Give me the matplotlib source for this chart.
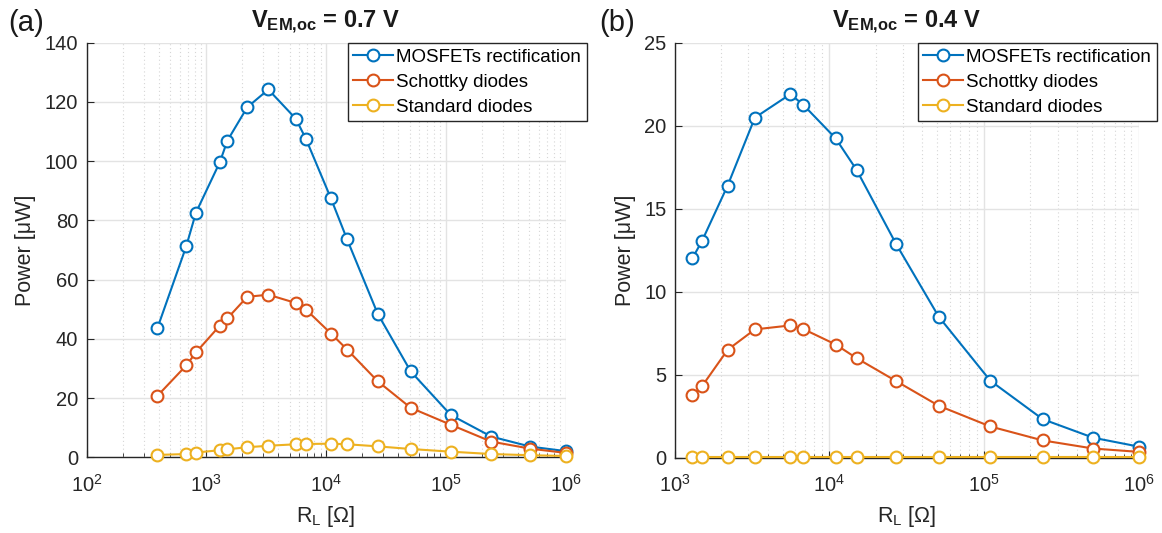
import matplotlib
matplotlib.use("Agg")
import matplotlib.pyplot as plt
import numpy as np
from matplotlib.ticker import LogLocator, NullFormatter

plt.rcParams['font.family'] = ['Liberation Sans', 'DejaVu Sans']
plt.rcParams['mathtext.fontset'] = 'custom'
plt.rcParams['mathtext.rm'] = 'Liberation Sans'
plt.rcParams['mathtext.it'] = 'Liberation Sans:italic'
plt.rcParams['mathtext.bf'] = 'Liberation Sans:bold'

# ---- data ----
R_a = [390, 680, 820, 1300, 1500, 2200, 3300, 5600, 6800, 11000, 15000,
       27000, 51000, 110000, 240000, 510000, 1000000]
mos_a = [43.5, 71.2, 82.6, 99.7, 106.9, 118.2, 124.2, 114.3, 107.5, 87.4, 73.6,
         48.5, 29.0, 14.3, 7.0, 3.6, 2.1]
sch_a = [20.7, 31.0, 35.4, 44.5, 46.9, 54.2, 54.9, 52.1, 49.9, 41.8, 36.4,
         25.7, 16.7, 11.0, 5.3, 2.9, 1.5]
std_a = [0.8, 1.1, 1.6, 2.4, 2.7, 3.4, 3.9, 4.4, 4.5, 4.6, 4.4,
         3.7, 2.8, 1.9, 1.1, 0.7, 0.45]

R_b = [1300, 1500, 2200, 3300, 5600, 6800, 11000, 15000,
       27000, 51000, 110000, 240000, 510000, 1000000]
mos_b = [12.0, 13.04, 16.39, 20.48, 21.9, 21.25, 19.23, 17.34,
         12.88, 8.49, 4.63, 2.31, 1.19, 0.66]
sch_b = [3.76, 4.29, 6.49, 7.72, 7.96, 7.74, 6.81, 5.99,
         4.61, 3.12, 1.87, 1.03, 0.54, 0.34]
std_b = [0.01, 0.01, 0.01, 0.01, 0.01, 0.01, 0.01, 0.01,
         0.01, 0.01, 0.01, 0.01, 0.01, 0.01]

labels = ['MOSFETs rectification', 'Schottky diodes', 'Standard diodes']
colors = ['#0072BD', '#D95319', '#EDB120']
titles = [r'V$_{\mathbf{EM{,}oc}}$ = 0.7 V', r'V$_{\mathbf{EM{,}oc}}$ = 0.4 V']
panel_tags = ['(a)', '(b)']
yticks_a = [0, 20, 40, 60, 80, 100, 120, 140]
yticks_b = [0, 5, 10, 15, 20, 25]

W, H = 1162, 533
fig = plt.figure(figsize=(W / 100, H / 100), dpi=100)

def px_axes(l, r, t, b):
    return [l / W, 1 - b / H, (r - l) / W, (b - t) / H]

ax_a = fig.add_axes(px_axes(86.5, 565.5, 42.7, 457.3))
ax_b = fig.add_axes(px_axes(674.7, 1138.5, 42.7, 457.5))

spine_c = '#262626'

def style(ax, R, series, xlim, yticks, title, tag, tagx, leg_right):
    for y, c, lab in zip(series, colors, labels):
        ax.plot(R, y, '-o', color=c, lw=1.5, ms=8.5, mew=1.5,
                mfc='white', mec=c, label=lab, zorder=3, clip_on=False)
    ax.set_xscale('log')
    ax.set_xlim(*xlim)
    ax.set_ylim(yticks[0], yticks[-1])
    ax.set_yticks(yticks)
    ax.xaxis.set_major_locator(LogLocator(base=10, numticks=10))
    ax.xaxis.set_minor_locator(LogLocator(base=10, subs=np.arange(2, 10), numticks=100))
    ax.xaxis.set_minor_formatter(NullFormatter())
    ax.grid(True, which='major', axis='both', color='#e3e3e3', lw=1.0, zorder=0)
    ax.grid(True, which='minor', axis='x', color='#d6d6d6', lw=0.8,
            ls=(0, (1, 2.5)), zorder=0)
    ax.set_axisbelow(True)
    for s in ['top', 'right']:
        ax.spines[s].set_visible(False)
    for s in ['left', 'bottom']:
        ax.spines[s].set_color(spine_c)
        ax.spines[s].set_linewidth(1.0)
    ax.tick_params(which='both', direction='in', colors=spine_c,
                   labelsize=14.5, labelcolor='#262626')
    ax.tick_params(which='major', length=5)
    ax.tick_params(which='minor', length=3)
    ax.tick_params(axis='x', pad=12)
    ax.tick_params(axis='y', pad=6)
    ax.set_ylabel('Power [μW]', fontsize=15.5, color='#262626', labelpad=6)
    ax.set_xlabel(r'R$_\mathrm{L}$ [Ω]', fontsize=15.5, color='#262626', labelpad=6)
    ax.set_title(title, fontsize=17, fontweight='bold', pad=11, color='#1a1a1a')
    fig.text(tagx / W, 1 - 23 / H, tag, fontsize=21, ha='center', va='center',
             color='#1a1a1a')
    leg = ax.legend(loc='upper right', bbox_to_anchor=(leg_right / W, 1 - 43 / H),
                    bbox_transform=fig.transFigure, borderaxespad=0,
                    fontsize=13.5, frameon=True, fancybox=False,
                    handlelength=2.1, handletextpad=0.2, borderpad=0.3,
                    labelspacing=0.42, framealpha=1)
    leg.get_frame().set_edgecolor(spine_c)
    leg.get_frame().set_linewidth(1.0)

style(ax_a, R_a, [mos_a, sch_a, std_a], (1e2, 1e6), yticks_a, titles[0],
      panel_tags[0], 26, 587)
style(ax_b, R_b, [mos_b, sch_b, std_b], (1e3, 1e6), yticks_b, titles[1],
      panel_tags[1], 617, 1157)

fig.savefig('out.png', dpi=100)
